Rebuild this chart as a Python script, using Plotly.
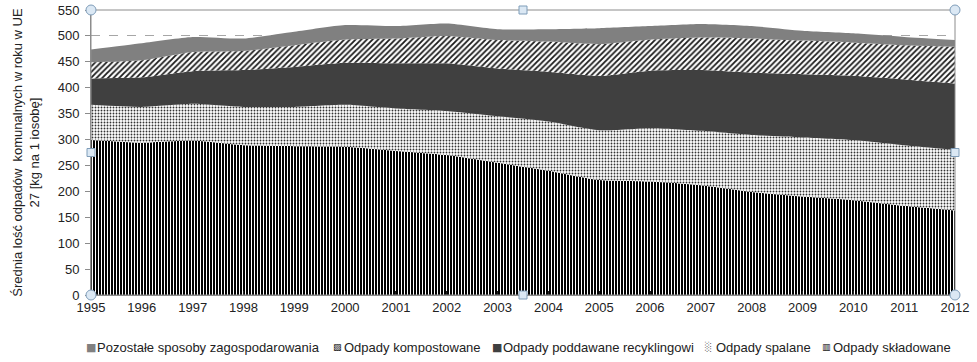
import plotly.graph_objects as go

years = list(range(1995, 2013))

# values per person [kg] (stacked from bottom)
skladowane = [299, 294, 298, 289, 287, 286, 278, 270, 255, 240, 222, 219, 212, 199, 190, 183, 172, 163]
spalane = [68, 69, 71, 74, 76, 81, 82, 85, 90, 95, 96, 103, 105, 110, 114, 116, 117, 117]
recykling = [51, 57, 63, 71, 77, 81, 87, 92, 92, 96, 105, 111, 117, 120, 122, 124, 127, 128]
kompost = [31, 33, 37, 37, 42, 45, 48, 53, 55, 58, 61, 60, 63, 66, 65, 64, 66, 71]
pozostale = [25, 33, 29, 24, 26, 28, 24, 24, 21, 24, 31, 26, 26, 24, 19, 18, 16, 13]

names = ["Odpady składowane", "Odpady spalane", "Odpady poddawane recyklingowi",
         "Odpady kompostowane", "Pozostałe sposoby zagospodarowania"]
series = [skladowane, spalane, recykling, kompost, pozostale]

styles = [
    dict(fillcolor="black", fillpattern=dict(shape="|", fgcolor="white", bgcolor="black", size=3, solidity=0.34, fillmode="replace")),
    dict(fillcolor="white", fillpattern=dict(shape=".", fgcolor="#333333", bgcolor="white", size=3, solidity=0.3, fillmode="replace")),
    dict(fillcolor="#404040"),
    dict(fillcolor="white", fillpattern=dict(shape="/", fgcolor="#1a1a1a", bgcolor="white", size=4, solidity=0.45, fillmode="replace")),
    dict(fillcolor="#808080"),
]

fig = go.Figure()
for name, vals, st in zip(names, series, styles):
    fig.add_trace(go.Scatter(
        x=years, y=vals, name=name, mode="lines", stackgroup="one",
        line=dict(width=0, shape="spline", smoothing=0.6),
        hoverinfo="skip", showlegend=False, **st))

font = "Liberation Sans, Arial, sans-serif"
txt = "#222222"

W, H = 977, 362
ML, MT, PW, PH = 91, 10, 864, 285

fig.update_layout(
    width=W, height=H,
    margin=dict(l=ML, r=W - ML - PW, t=MT, b=H - MT - PH, autoexpand=False),
    paper_bgcolor="white", plot_bgcolor="white",
    font=dict(family=font, size=13, color=txt),
    showlegend=False,
    xaxis=dict(range=[1995, 2012], tickmode="linear", tick0=1995, dtick=1,
               showgrid=False, zeroline=False, showline=True, linecolor="#8c8c8c",
               ticks="inside", ticklen=4, tickcolor="#222222", automargin=False,
               ticklabeloverflow="allow",
               tickfont=dict(size=13, color=txt)),
    yaxis=dict(range=[0, 550], tickmode="linear", tick0=0, dtick=50,
               showgrid=True, gridcolor="#a6a6a6", griddash="dash", gridwidth=1,
               zeroline=False, showline=True, linecolor="#8c8c8c",
               ticks="outside", ticklen=5, tickcolor="#8c8c8c", automargin=False,
               ticklabelstandoff=3, ticklabeloverflow="allow",
               tickfont=dict(size=13, color=txt),
               title=dict(text="Średnia lość odpadów  komunalnych w roku w UE<br>27 [kg na 1 iosobę]",
                          font=dict(size=13, color=txt), standoff=15)),
)

# legend built as text (order and symbols as in the source)
legend_items = [
    ("■", "#808080", 11, "Pozostałe sposoby zagospodarowania", 84, 95),
    ("▨", "#000000", 9, "Odpady kompostowane", 331, 342),
    ("■", "#404040", 11, "Odpady poddawane recyklingowi", 490, 501),
    ("░", "#555555", 9, "Odpady spalane", 703, 714),
    ("▥", "#000000", 9, "Odpady składowane", 820, 831),
]
ly = 347
for sym, col, ssize, label, sx, tx in legend_items:
    fig.add_annotation(text=sym, xref="paper", yref="paper",
                       x=(sx - ML) / PW, y=(MT + PH - ly) / PH, xanchor="left", yanchor="middle",
                       showarrow=False, font=dict(size=ssize, color=col, family="DejaVu Sans"))
    fig.add_annotation(text=label, xref="paper", yref="paper",
                       x=(tx - ML) / PW, y=(MT + PH - ly) / PH, xanchor="left", yanchor="middle",
                       showarrow=False, font=dict(size=13, color=txt, family=font))

# selection frame around the plot area (as in the source screenshot)
fig.add_shape(type="rect", xref="paper", yref="paper", x0=0, x1=1, y0=0, y1=1,
              line=dict(color="#8c8c8c", width=1), fillcolor="rgba(0,0,0,0)", layer="above")
handle_line = dict(color="#7f9db9", width=1)
handle_fill = "#dbe8f4"
for (px, py) in [(0, 0), (1, 0), (0, 1), (1, 1)]:
    fig.add_shape(type="circle", xref="paper", yref="paper", x0=-5, y0=-5, x1=5, y1=5,
                  xsizemode="pixel", ysizemode="pixel", xanchor=px, yanchor=py,
                  line=handle_line, fillcolor=handle_fill, layer="above")
for (px, py) in [(0.5, 0), (0.5, 1), (0, 0.5), (1, 0.5)]:
    fig.add_shape(type="rect", xref="paper", yref="paper", x0=-4, y0=-4, x1=4, y1=4,
                  xsizemode="pixel", ysizemode="pixel", xanchor=px, yanchor=py,
                  line=handle_line, fillcolor=handle_fill, layer="above")

fig.write_html("out.html", config={"displayModeBar": False},
               post_script="document.body.style.margin='0';document.body.style.overflow='hidden';")
